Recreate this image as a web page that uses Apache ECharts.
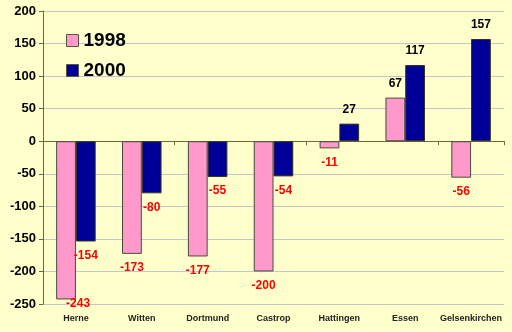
<!DOCTYPE html>
<html><head><meta charset="utf-8">
<script src="https://cdn.jsdelivr.net/npm/echarts@6/dist/echarts.min.js"></script>
<style>html,body{margin:0;padding:0;background:#FFFFCC}#c{width:512px;height:332px}</style>
</head><body><div id="c"></div>
<script>
const categories = ['Herne','Witten','Dortmund','Castrop','Hattingen','Essen','Gelsenkirchen'];
const values1998 = [-243,-173,-177,-200,-11,67,-56];
const values2000 = [-154,-80,-55,-54,27,117,157];
const seriesNames = ['1998','2000'];

const font = 'Liberation Sans, Arial, sans-serif';
function items(arr){
  return arr.map(v => ({
    value: v,
    label: {
      position: v < 0 ? 'bottom' : 'top',
      color: v < 0 ? '#FF0000' : '#000000'
    }
  }));
}
function clampLayout(p){
  const maxBottom = 310;
  const r = p.labelRect;
  if (r.y + r.height > maxBottom) {
    return { y: maxBottom - r.height / 2, verticalAlign: 'middle' };
  }
  return {};
}
const chart = echarts.init(document.getElementById('c'), null, {renderer:'canvas'});
const labelBase = {show:true, fontFamily:font, fontWeight:'bold', fontSize:12, distance:8};
chart.setOption({
  backgroundColor:'#FFFFCC',
  animation:false,
  grid:{left:43, right:8, top:11, bottom:28},
  legend:{
    orient:'vertical', left:61, top:26, itemWidth:12, itemHeight:12, itemGap:11,
    icon:'rect',
    itemStyle:{borderColor:'#555544', borderWidth:1},
    textStyle:{fontFamily:font, fontWeight:'bold', fontSize:19, color:'#000'},
    data:seriesNames
  },
  xAxis:[{
    type:'category', data:categories,
    axisLine:{show:false, onZero:false}, axisTick:{show:false},
    axisLabel:{interval:0, fontFamily:font, fontWeight:'bold', fontSize:9, color:'#222', margin:10}
  },{
    type:'category', data:categories, position:'bottom',
    axisLine:{show:true, onZero:true, lineStyle:{color:'#6B6B3A', width:1}},
    axisTick:{show:true, inside:false, length:4, lineStyle:{color:'#6B6B3A'}},
    axisLabel:{show:false}
  }],
  yAxis:{
    type:'value', min:-250, max:200, interval:50,
    axisLine:{show:true, lineStyle:{color:'#6B6B3A'}},
    axisTick:{show:true, length:4, lineStyle:{color:'#6B6B3A'}},
    axisLabel:{fontFamily:font, fontWeight:'bold', fontSize:13, color:'#000', margin:7},
    splitLine:{lineStyle:{color:'#C4C4CC'}}
  },
  series:[{
    name:seriesNames[0], type:'bar', data:items(values1998), barWidth:'30%', barGap:'0%',
    itemStyle:{color:'#FF99CC', borderColor:'#4A4A3A', borderWidth:1},
    label:labelBase, labelLayout:clampLayout
  },{
    name:seriesNames[1], type:'bar', data:items(values2000), barWidth:'30%', barGap:'0%',
    itemStyle:{color:'#000099', borderColor:'#33331A', borderWidth:1},
    label:labelBase, labelLayout:clampLayout
  }]
});
</script></body></html>
